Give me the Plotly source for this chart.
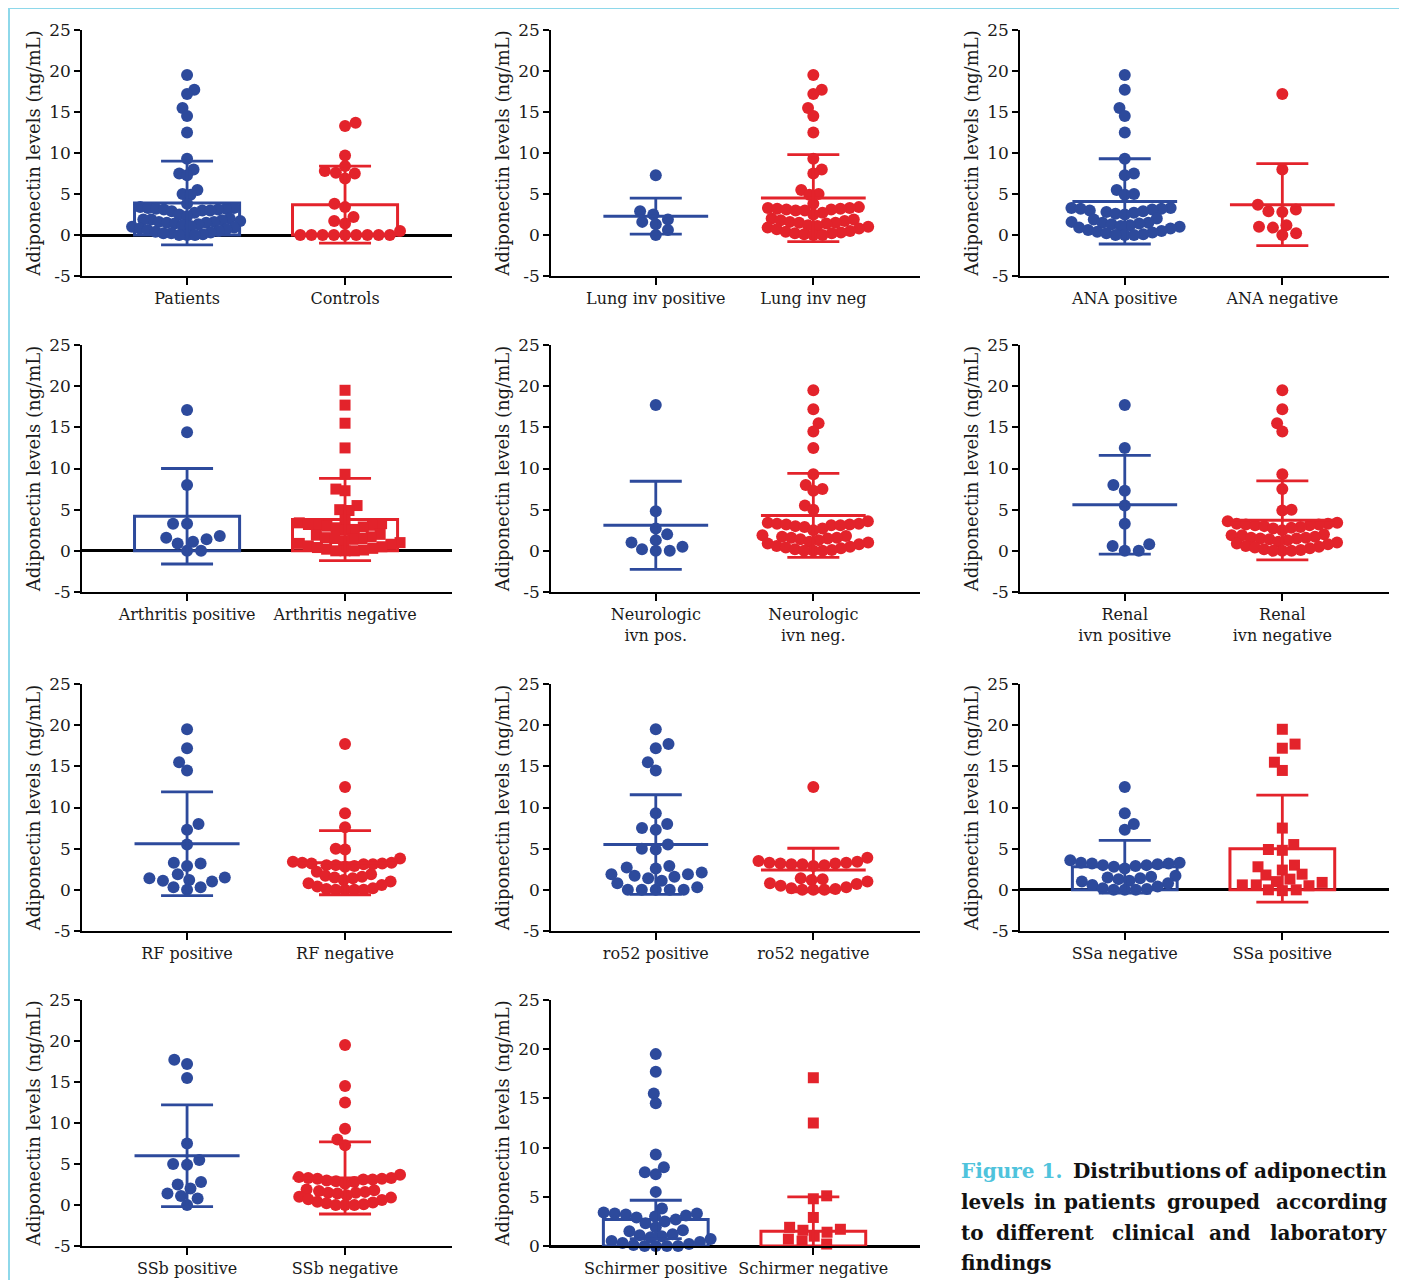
import math
import plotly.graph_objects as go

# ---------------- data ----------------
Y_TITLE = "Adiponectin levels (ng/mL)"
Y_TICKS = [-5, 0, 5, 10, 15, 20, 25]
Y_TICKTEXT = ["-5", "0", "5", "10", "15", "20", "25"]

p1_labels = ["Patients", "Controls"]
p1_a = [19.5, 17.7, 17.2, 15.5, 14.5, 12.5, 9.3, 8.0, 7.5, 7.3, 5.5, 5.0, 4.9, 3.8,
        3.4, 3.3, 3.3, 3.2, 3.2, 3.1, 3.1, 3.0, 3.0, 2.9, 2.7, 2.5, 2.3,
        2.0, 1.9, 1.9, 1.8,
        1.7, 1.6, 1.6, 1.5, 1.5, 1.4, 1.3, 1.2, 1.1, 1.0, 0.9, 0.8, 0.7, 0.6, 0.5,
        0.4, 0.3, 0.2, 0.2, 0.1, 0.0, 0.0, 0.0]
p1_b = [13.7, 13.3, 9.7, 8.4, 7.8, 7.6, 7.5, 6.9, 3.8, 3.4, 2.2, 1.7, 1.4, 0.5,
        0.0, 0.0, 0.0, 0.0, 0.0, 0.0, 0.0, 0.0, 0.0]
p1_mean = [3.9, 3.7]
p1_sd = [5.1, 4.7]

p2_labels = ["Lung inv positive", "Lung inv neg"]
p2_a = [7.3, 2.9, 2.5, 1.9, 1.6, 1.3, 0.6, 0.0]
p2_b = [19.5, 17.7, 17.2, 15.5, 14.5, 12.5, 9.3, 8.0, 7.5, 5.5, 5.0, 4.9, 3.8,
        3.4, 3.3, 3.3, 3.2, 3.2, 3.1, 3.1, 3.0, 3.0, 2.7, 2.5,
        2.0, 1.9, 1.8,
        1.7, 1.6, 1.5, 1.5, 1.4, 1.2, 1.1, 1.0, 0.9, 0.8, 0.7, 0.5, 0.4, 0.3, 0.2,
        0.2, 0.1, 0.0, 0.0]
p2_mean = [2.3, 4.5]
p2_sd = [2.2, 5.3]

p3_labels = ["ANA positive", "ANA negative"]
p3_a = [19.5, 17.7, 15.5, 14.5, 12.5, 9.3, 7.5, 7.3, 5.5, 5.0, 4.9,
        3.3, 3.3, 3.2, 3.2, 3.1, 3.0, 2.9, 2.8, 2.7, 2.6, 2.5,
        2.0, 1.9,
        1.6, 1.5, 1.5, 1.4, 1.3, 1.2, 1.1, 1.0, 0.9, 0.8, 0.6, 0.5, 0.4, 0.3, 0.2,
        0.1, 0.0, 0.0, 0.0]
p3_b = [17.2, 8.0, 3.7, 3.1, 2.9, 2.8, 1.2, 1.0, 0.9, 0.2, 0.0]
p3_mean = [4.1, 3.7]
p3_sd = [5.2, 5.0]

p4_labels = ["Arthritis positive", "Arthritis negative"]
p4_a = [17.1, 14.4, 8.0, 3.3, 3.3, 1.8, 1.6, 1.4, 1.1, 0.9, 0.0, 0.0]
p4_b = [19.5, 17.7, 15.5, 12.5, 9.3, 7.5, 7.3, 5.5, 5.0, 4.9, 3.8,
        3.4, 3.3, 3.2, 3.2, 3.1, 3.0, 2.9, 2.8, 2.6, 2.5,
        2.0, 1.9,
        1.7, 1.6, 1.5, 1.5, 1.4, 1.2, 1.0, 0.9, 0.8, 0.6, 0.5, 0.4, 0.3, 0.2, 0.1,
        0.0, 0.0, 0.0]
p4_mean = [4.2, 3.8]
p4_sd = [5.8, 5.0]

p5_labels = ["Neurologic<br>ivn pos.", "Neurologic<br>ivn neg."]
p5_a = [17.7, 4.8, 2.7, 2.0, 1.3, 1.0, 0.5, 0.2, 0.0, 0.0]
p5_b = [19.5, 17.2, 15.5, 14.5, 12.5, 9.3, 8.0, 7.5, 7.3, 5.5, 5.0, 3.6,
        3.4, 3.3, 3.3, 3.2, 3.2, 3.1, 3.1, 3.0, 2.9, 2.7, 2.5,
        1.9, 1.8,
        1.7, 1.6, 1.6, 1.5, 1.4, 1.3, 1.1, 1.0, 0.9, 0.8, 0.6, 0.5, 0.4, 0.3, 0.2,
        0.1, 0.0, 0.0, 0.0]
p5_mean = [3.1, 4.3]
p5_sd = [5.35, 5.1]

p6_labels = ["Renal<br>ivn positive", "Renal<br>ivn negative"]
p6_a = [17.7, 12.5, 8.0, 7.3, 5.5, 3.3, 0.8, 0.6, 0.0, 0.0]
p6_b = [19.5, 17.2, 15.5, 14.5, 9.3, 7.5, 5.0, 4.9, 3.6,
        3.4, 3.3, 3.3, 3.2, 3.2, 3.1, 3.1, 3.0, 2.9, 2.8, 2.7, 2.5,
        2.0, 1.9, 1.9,
        1.7, 1.6, 1.6, 1.5, 1.5, 1.4, 1.3, 1.1, 1.0, 0.9, 0.8, 0.6, 0.5, 0.4, 0.3,
        0.2, 0.1, 0.0, 0.0, 0.0]
p6_mean = [5.6, 3.7]
p6_sd = [6.0, 4.8]

p7_labels = ["RF positive", "RF negative"]
p7_a = [19.5, 17.2, 15.5, 14.5, 8.0, 7.3, 5.5, 3.3, 3.2, 2.9, 1.9, 1.5, 1.4, 1.2,
        1.1, 1.0, 0.3, 0.3, 0.0]
p7_b = [17.7, 12.5, 9.3, 7.6, 5.0, 4.9, 3.8,
        3.4, 3.3, 3.3, 3.2, 3.2, 3.1, 3.1, 3.0, 3.0, 2.9, 2.8,
        2.2, 1.9,
        1.7, 1.6, 1.5, 1.4, 1.2, 1.0, 0.8, 0.6, 0.4, 0.2, 0.1, 0.0, 0.0, 0.0, 0.0]
p7_mean = [5.6, 3.3]
p7_sd = [6.3, 3.9]

p8_labels = ["ro52 positive", "ro52 negative"]
p8_a = [19.5, 17.7, 17.2, 15.5, 14.5, 9.3, 8.0, 7.5, 7.3, 5.5, 5.0, 4.9, 2.9, 2.7,
        2.6, 2.1, 1.9, 1.9, 1.7, 1.6, 1.4, 1.1, 0.8, 0.3, 0.0, 0.0, 0.0, 0.0, 0.0]
p8_b = [12.5, 3.9, 3.5, 3.4, 3.3, 3.3, 3.2, 3.2, 3.1, 3.1, 3.0, 2.9,
        1.4, 1.3, 1.2, 1.0, 0.8, 0.7, 0.5, 0.3, 0.2, 0.1, 0.0, 0.0, 0.0]
p8_mean = [5.5, 2.4]
p8_sd = [6.05, 2.65]

p9_labels = ["SSa negative", "SSa positive"]
p9_a = [12.5, 9.3, 8.0, 7.3, 3.6,
        3.3, 3.3, 3.2, 3.2, 3.1, 3.0, 3.0, 2.9, 2.8, 2.6,
        1.7,
        1.6, 1.5, 1.4, 1.3, 1.1, 1.0, 0.8, 0.6, 0.4, 0.2, 0.1, 0.0, 0.0, 0.0]
p9_b = [19.5, 17.7, 17.2, 15.5, 14.5, 7.5, 5.5, 4.9, 4.8, 3.0, 2.8, 2.4, 1.9, 1.8,
        1.3, 1.0, 0.9, 0.6, 0.6, 0.5, 0.0, 0.0, -0.1]
p9_mean = [2.8, 5.0]
p9_sd = [3.2, 6.5]

p10_labels = ["SSb positive", "SSb negative"]
p10_a = [17.7, 17.2, 15.5, 7.5, 5.5, 5.0, 4.9, 2.8, 2.5, 2.0, 1.4, 1.1, 0.8, 0.0]
p10_b = [19.5, 14.5, 12.5, 9.3, 8.0, 7.3, 3.7,
         3.4, 3.3, 3.3, 3.2, 3.2, 3.1, 3.1, 3.0, 2.9, 2.8, 2.6,
         1.9, 1.8,
         1.7, 1.6, 1.5, 1.5, 1.4, 1.2, 1.0, 0.9, 0.7, 0.6, 0.4, 0.3, 0.2, 0.1,
         0.0, 0.0, 0.0]
p10_mean = [6.0, 3.3]
p10_sd = [6.2, 4.4]

p11_labels = ["Schirmer positive", "Schirmer negative"]
p11_a = [19.5, 17.7, 15.5, 14.5, 9.3, 8.0, 7.5, 7.3, 5.5, 3.8,
         3.4, 3.3, 3.3, 3.2, 3.1, 3.0, 2.9, 2.7, 2.5, 2.3,
         1.9, 1.6, 1.5,
         1.2, 1.1, 1.0, 0.9, 0.7, 0.5, 0.4, 0.3, 0.2, 0.1, 0.0, 0.0, 0.0, 0.0]
p11_b = [17.1, 12.5, 5.1, 4.8, 2.9, 1.9, 1.7, 1.6, 1.4, 1.0, 0.7, 0.5, 0.2, -0.1]
p11_mean = [2.7, 1.5]
p11_sd = [1.95, 3.5]

CAPTION = [
    [("Figure 1.", "c"), ("Distributions", "k"), ("of", "k"), ("adiponectin", "k")],
    [("levels", "k"), ("in", "k"), ("patients", "k"), ("grouped", "k"), ("according", "k")],
    [("to", "k"), ("different", "k"), ("clinical", "k"), ("and", "k"), ("laboratory", "k")],
    [("findings", "k")],
]

# ---------------- styling / layout ----------------
W, H = 1407, 1280
OFF = 8  # page body margin in the browser
BLUE = "#2D4A9C"
RED = "#E3232B"
CYAN = "#4FC3DC"
FONT = "DejaVu Serif"

# screen-pixel positions of the plot areas (converted to figure px with OFF)
COLS = [(82, 452), (551, 920), (1020, 1389)]
ROWS = [(30, 276), (345, 592), (684, 931), (1000, 1246)]
XR = [-0.665, 1.677]
XPPU = 158.0
BARW = 0.665
CAPW = 26


def fx(px):
    return (px - OFF) / W


def fy(py):
    return 1 - (py - OFF) / H


panels = [
    dict(lab=p1_labels, a=p1_a, b=p1_b, m=p1_mean, s=p1_sd, bar=True, sq=False),
    dict(lab=p2_labels, a=p2_a, b=p2_b, m=p2_mean, s=p2_sd, bar=False, sq=False),
    dict(lab=p3_labels, a=p3_a, b=p3_b, m=p3_mean, s=p3_sd, bar=False, sq=False),
    dict(lab=p4_labels, a=p4_a, b=p4_b, m=p4_mean, s=p4_sd, bar=True, sq=True),
    dict(lab=p5_labels, a=p5_a, b=p5_b, m=p5_mean, s=p5_sd, bar=False, sq=False),
    dict(lab=p6_labels, a=p6_a, b=p6_b, m=p6_mean, s=p6_sd, bar=False, sq=False),
    dict(lab=p7_labels, a=p7_a, b=p7_b, m=p7_mean, s=p7_sd, bar=False, sq=False),
    dict(lab=p8_labels, a=p8_a, b=p8_b, m=p8_mean, s=p8_sd, bar=False, sq=False),
    dict(lab=p9_labels, a=p9_a, b=p9_b, m=p9_mean, s=p9_sd, bar=True, sq=True),
    dict(lab=p10_labels, a=p10_a, b=p10_b, m=p10_mean, s=p10_sd, bar=False, sq=False),
    dict(lab=p11_labels, a=p11_a, b=p11_b, m=p11_mean, s=p11_sd, bar=True, sq=True, y0=0),
]


def swarm(vals, ypx, dx_min=14.0, dy_min=10.0, maxw=55.0):
    """Deterministic beeswarm: horizontal spacing dx_min, vertical reach dy_min (px)."""
    ys = dx_min / dy_min
    d = dx_min
    order = sorted(range(len(vals)), key=lambda i: vals[i])
    placed = []
    xs = [0.0] * len(vals)
    side = 1
    for i in order:
        y = vals[i] * ypx * ys
        near = [(px, py) for px, py in placed if abs(py - y) < d]
        cands = [0.0]
        for px, py in near:
            dx = math.sqrt(max(d * d - (py - y) ** 2, 0.0))
            cands += [px + dx, px - dx]
        valid = [c for c in cands
                 if all((c - px) ** 2 + (y - py) ** 2 >= d * d - 1e-6 for px, py in near)]
        best = min(valid, key=lambda c: (round(abs(c), 3), -side * c))
        if best > 0:
            side = -1
        elif best < 0:
            side = 1
        xs[i] = best
        placed.append((best, y))
    mx = max(abs(x) for x in xs) if xs else 0
    if mx > maxw:
        xs = [x * maxw / mx for x in xs]
    return xs


fig = go.Figure()
layout = {}

for k, p in enumerate(panels):
    r, c = divmod(k, 3)
    n = "" if k == 0 else str(k + 1)
    xa, ya = "x" + n, "y" + n
    x0p, x1p = COLS[c]
    t, b = ROWS[r]
    ymin = p.get("y0", -5)
    ypx = (b - t) / (25 - ymin)
    for g, (vals, col) in enumerate([(p["a"], BLUE), (p["b"], RED)]):
        mean, sd = p["m"][g], p["s"][g]
        square = p["sq"] and g == 1
        if p["bar"]:
            fig.add_trace(go.Bar(x=[g], y=[mean], width=BARW, xaxis=xa, yaxis=ya,
                                 marker=dict(color="rgba(0,0,0,0)", line=dict(color=col, width=3)),
                                 showlegend=False, hoverinfo="skip"))
        offs = swarm(vals, ypx)
        fig.add_trace(go.Scatter(x=[g + o / XPPU for o in offs], y=vals, mode="markers",
                                 xaxis=xa, yaxis=ya, cliponaxis=False, showlegend=False,
                                 marker=dict(symbol="square" if square else "circle",
                                             size=11 if square else 12,
                                             color=col, line=dict(width=0))))
        if not p["bar"]:
            fig.add_trace(go.Scatter(x=[g - BARW / 2, g + BARW / 2], y=[mean, mean], mode="lines",
                                     xaxis=xa, yaxis=ya, showlegend=False,
                                     line=dict(color=col, width=3)))
        fig.add_trace(go.Scatter(x=[g], y=[mean], mode="markers", xaxis=xa, yaxis=ya,
                                 showlegend=False, cliponaxis=True,
                                 marker=dict(size=2, color="rgba(0,0,0,0)"),
                                 error_y=dict(type="data", array=[sd], symmetric=True,
                                              color=col, thickness=2.8, width=CAPW)))
    tv = [v for v in Y_TICKS if v >= ymin]
    tt = [s for v, s in zip(Y_TICKS, Y_TICKTEXT) if v >= ymin]
    layout["xaxis" + n] = dict(
        domain=[fx(x0p), fx(x1p)], range=XR, anchor=ya, tickvals=[0, 1], ticktext=p["lab"],
        showline=True, linecolor="black", linewidth=1.6, ticks="outside", ticklen=7,
        tickwidth=1.6, tickcolor="black", showgrid=False, zeroline=False,
        tickfont=dict(family=FONT, size=16, color="#1a1a1a"), fixedrange=True)
    layout["yaxis" + n] = dict(
        domain=[fy(b), fy(t)], range=[ymin, 25], anchor=xa,
        tickvals=tv, ticktext=tt,
        showline=True, linecolor="black", linewidth=1.6, ticks="outside", ticklen=6,
        tickwidth=1.6, tickcolor="black", showgrid=False,
        zeroline=p["bar"], zerolinecolor="black", zerolinewidth=2.6,
        tickfont=dict(family=FONT, size=17, color="#1a1a1a"),
        title=dict(text=Y_TITLE, font=dict(family=FONT, size=18, color="#1a1a1a"), standoff=4),
        fixedrange=True)

# caption, justified word by word using approximate glyph widths
CW = dict(a=.68, b=.76, c=.64, d=.76, e=.68, f=.47, g=.76, h=.82, i=.42, j=.41, k=.78,
          l=.42, m=1.18, n=.82, o=.72, p=.76, q=.76, r=.6, s=.6, t=.48, u=.82, v=.72,
          w=1.03, x=.73, y=.72, z=.62, F=.78, D=.89)
CAP_SIZE = 20
cap_y = [1171, 1202, 1233, 1263]
cap_x0, cap_x1 = 959, 1389


def wwidth(word):
    return sum(CW.get(ch, .70 if ch.isdigit() else .38) for ch in word) * CAP_SIZE


annotations = []
for li, words in enumerate(CAPTION):
    widths = [wwidth(wd) for wd, _ in words]
    if len(words) > 1 and li < len(CAPTION) - 1:
        gap = (cap_x1 - cap_x0 - sum(widths)) / (len(words) - 1)
    else:
        gap = CAP_SIZE * 0.35
    xcur = cap_x0
    for wi, (wd, cc) in enumerate(words):
        if wi == 0:
            xpx, anc = cap_x0, "left"
        elif wi == len(words) - 1 and li < len(CAPTION) - 1:
            xpx, anc = cap_x1, "right"
        else:
            xpx, anc = xcur + widths[wi] / 2, "center"
        xcur += widths[wi] + gap
        annotations.append(dict(
            x=fx(xpx), y=fy(cap_y[li]), xref="paper", yref="paper",
            xanchor=anc, yanchor="middle", showarrow=False,
            text="<b>" + wd + "</b>",
            font=dict(family=FONT, size=CAP_SIZE, color=CYAN if cc == "c" else "#111111")))

fig.update_layout(
    width=W, height=H, margin=dict(l=0, r=0, t=0, b=0, pad=0, autoexpand=False),
    paper_bgcolor="white", plot_bgcolor="white", showlegend=False,
    barmode="overlay", annotations=annotations,
    shapes=[dict(type="rect", xref="paper", yref="paper",
                 x0=fx(9), x1=fx(1404), y0=-0.05, y1=fy(8),
                 line=dict(color="#8ED8EA", width=2), fillcolor="rgba(0,0,0,0)", layer="below")],
    **layout)

fig.write_html("out.html")
